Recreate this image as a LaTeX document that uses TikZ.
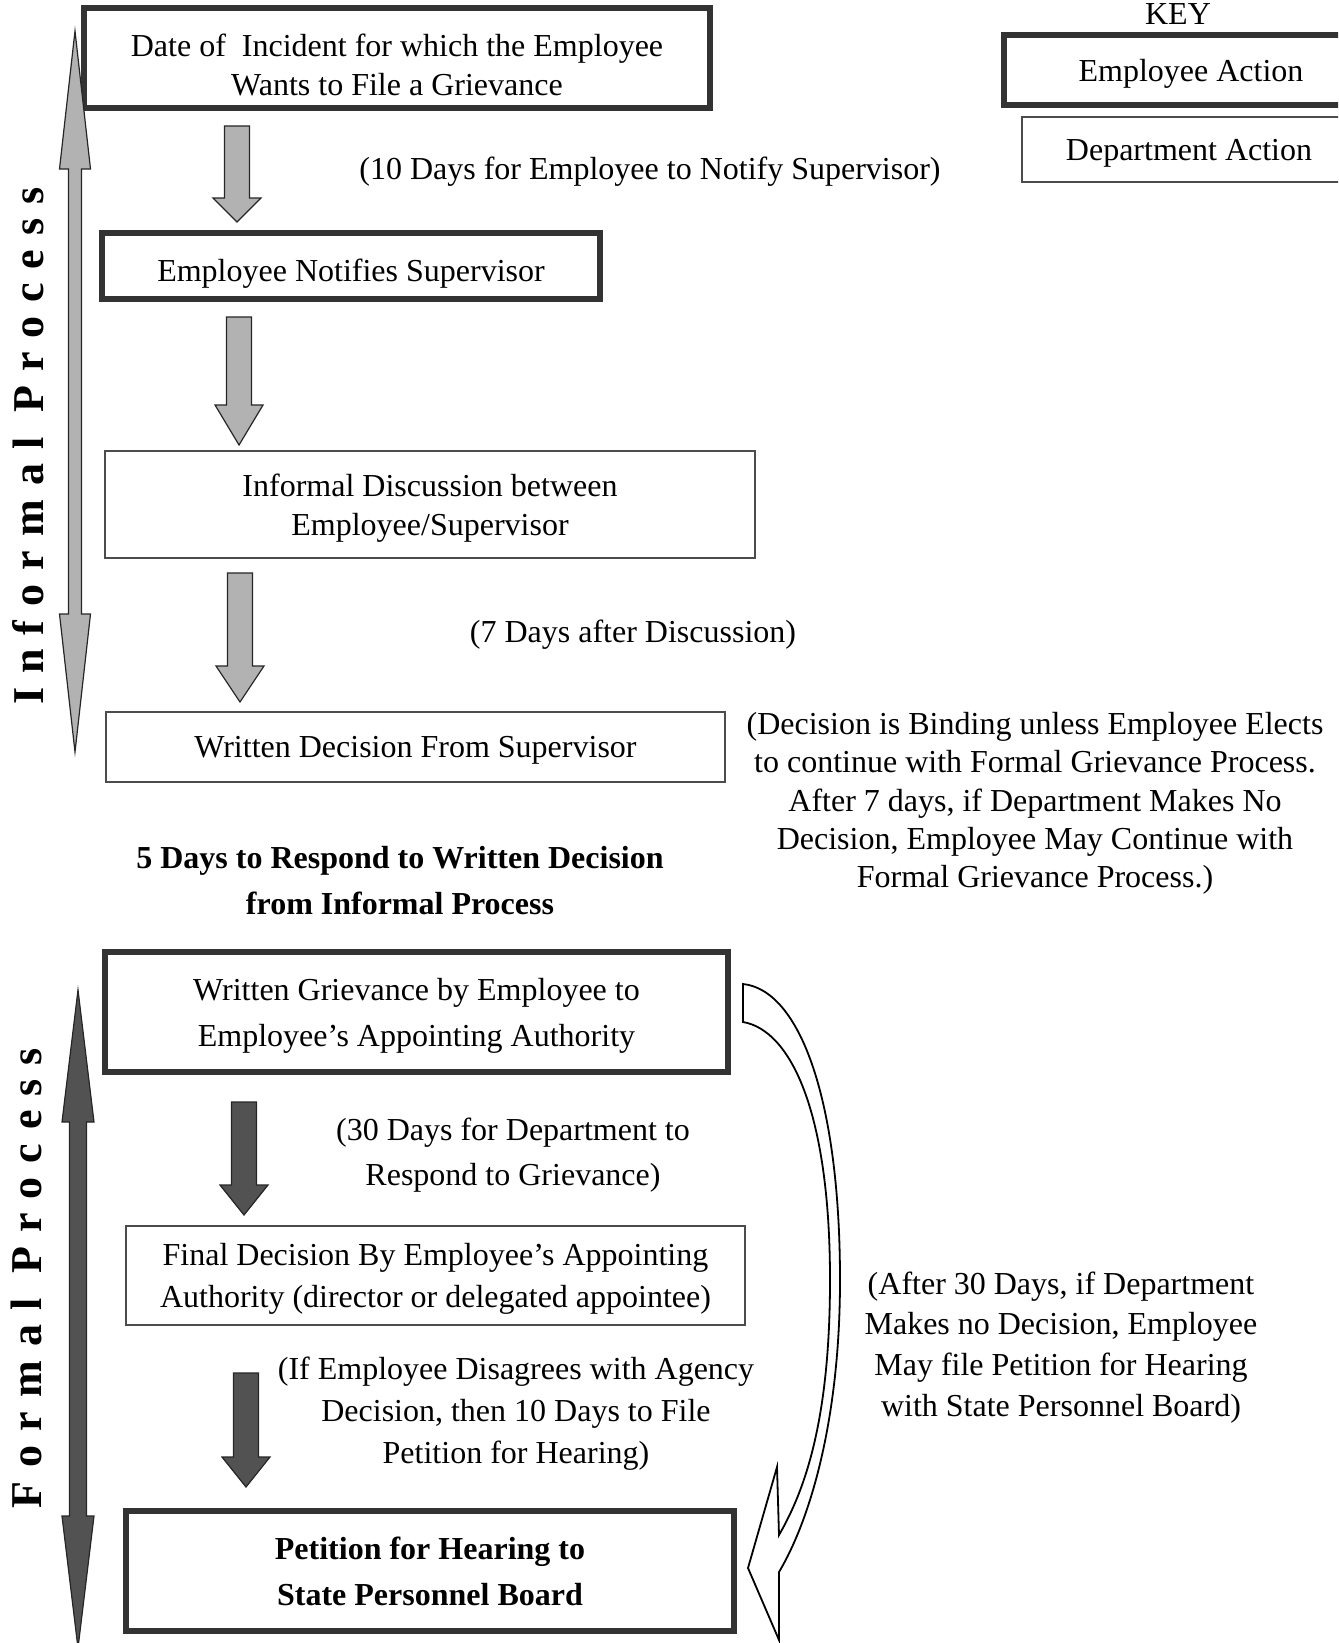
\documentclass[tikz,border=0pt]{standalone}
\usepackage{fontspec}
\setmainfont{Liberation Serif}
\newfontfamily\spacedfont[LetterSpace=32]{Liberation Serif}
\usetikzlibrary{calc}

% block arrow pointing down: top, tip, head length, fill
\newcommand{\blockdown}[4]{%
    \draw[arrowline,fill=#4]
        ($(#1)+(-12.5,0)$) -- ($(#2)+(-12.5,-#3)$) -- ($(#2)+(-24,-#3)$)
        -- (#2) -- ($(#2)+(24,-#3)$) -- ($(#2)+(12.5,-#3)$)
        -- ($(#1)+(12.5,0)$) -- cycle;}

% long double arrow: top tip, bottom tip, head length, shaft, head, fill
\newcommand{\dblarrow}[6]{%
    \draw[arrowline,fill=#6]
        (#1) -- ($(#1)+(#5,#3)$) -- ($(#1)+(#4,#3)$)
        -- ($(#2)+(#4,-#3)$) -- ($(#2)+(#5,-#3)$) -- (#2)
        -- ($(#2)+(-#5,-#3)$) -- ($(#2)+(-#4,-#3)$)
        -- ($(#1)+(-#4,#3)$) -- ($(#1)+(-#5,#3)$) -- cycle;}

% extra room above the first line of a box
\newcommand{\topgap}[1][15pt]{\rule{0pt}{#1}}

\begin{document}
\begin{tikzpicture}[x=0.5pt,y=-0.5pt,
    every node/.style={inner sep=0pt,text depth=0pt},
    font=\fontsize{16}{19.5}\selectfont,
    empbox/.style={draw=black!80,line width=2.6pt,align=center},
    deptbox/.style={draw=black!70,line width=0.6pt,align=center},
    note/.style={align=center},
    lsep/.style={font=\fontsize{16}{#1}\selectfont},
    arrowline/.style={draw=black!85,line width=0.6pt}]

\useasboundingbox (0,0) rectangle (1338,1643);
\clip (0,0) rectangle (1338,1643);

%
% Key in the upper right corner.
\node[anchor=base] (key) at (1178,25) {KEY};
\node[empbox,minimum width=187pt,minimum height=35pt]
    (empkey) at (1191,70) {Employee Action};
\node[deptbox,minimum width=167pt,minimum height=32.5pt]
    (deptkey) at (1189,149.5) {Department Action};

%
% Informal process boxes.
\node[empbox,lsep=19.5pt,minimum width=313pt,minimum height=50pt]
    (incident) at (397,58)
    {\topgap[18pt]Date of \ Incident for which the Employee\\Wants to File a Grievance};
\node[empbox,minimum width=249pt,minimum height=33pt]
    (notify) at (351,266) {\topgap Employee Notifies Supervisor};
\node[deptbox,lsep=19.5pt,minimum width=325pt,minimum height=53.5pt]
    (discuss) at (430,504.5)
    {Informal Discussion between\\Employee/Supervisor};
\node[deptbox,minimum width=309.5pt,minimum height=35pt]
    (wdecision) at (415.5,747) {Written Decision From Supervisor};

%
% Formal process boxes.
\node[empbox,lsep=23pt,minimum width=311.5pt,minimum height=60pt]
    (grievance) at (416.5,1012)
    {Written Grievance by Employee to\\Employee's Appointing Authority};
\node[deptbox,lsep=21pt,minimum width=309.5pt,minimum height=49.5pt]
    (final) at (435.5,1275.5)
    {Final Decision By Employee's Appointing\\Authority (director or delegated appointee)};
\node[empbox,font=\fontsize{16}{23}\selectfont\bfseries,
    minimum width=304pt,minimum height=60pt]
    (petition) at (430,1571)
    {Petition for Hearing to\\State Personnel Board};

%
% Time limits next to the arrows.
\node[note] (notify10) at (650,168) {(10 Days for Employee to Notify Supervisor)};
\node[note] (after7) at (633,631) {(7 Days after Discussion)};
\node[note,lsep=19.15pt] (binding) at (1035,800)
    {(Decision is Binding unless Employee Elects\\
     to continue with Formal Grievance Process.\\
     After 7 days, if Department Makes No\\
     Decision, Employee May Continue with\\
     Formal Grievance Process.)};
\node[note,font=\fontsize{16}{23}\selectfont\bfseries] (respond) at (400,880)
    {5 Days to Respond to Written Decision\\from Informal Process};
\node[note,lsep=22.5pt] (dept30) at (513,1152)
    {(30 Days for Department to\\Respond to Grievance)};
\node[note,lsep=21pt] (disagree) at (516,1410)
    {(If Employee Disagrees with Agency\\
     Decision, then 10 Days to File\\
     Petition for Hearing)};
\node[note,lsep=20.3pt] (after30) at (1061,1344)
    {(After 30 Days, if Department\\
     Makes no Decision, Employee\\
     May file Petition for Hearing\\
     with State Personnel Board)};

%
% Ends of the block arrows between the boxes.
\coordinate (d1a) at (237,126);  \coordinate (d1b) at (237,222);
\coordinate (d2a) at (239,317);  \coordinate (d2b) at (239,445);
\coordinate (d3a) at (240,573);  \coordinate (d3b) at (240,702);
\coordinate (d4a) at (244,1102); \coordinate (d4b) at (244,1215);
\coordinate (d5a) at (246,1373); \coordinate (d5b) at (246,1487);

% Loop for each block arrow.
\foreach \s/\e/\h/\c in {d1a/d1b/24/black!30,d2a/d2b/40/black!30,
    d3a/d3b/36/black!30,d4a/d4b/30/black!68,d5a/d5b/30/black!68} {
    \blockdown{\s}{\e}{\h}{\c}
}

%
% Long double arrows on the left with their labels.
\coordinate (inftop) at (75,31);   \coordinate (infbot) at (75,752);
\coordinate (fortop) at (78,990);  \coordinate (forbot) at (78,1648);
\dblarrow{inftop}{infbot}{138}{6.5}{15.5}{black!30}
\dblarrow{fortop}{forbot}{132}{8.5}{16}{black!68}

\node[rotate=90,font=\fontsize{22}{22}\spacedfont\bfseries]
    (informal) at (28,446) {Informal Process};
\node[rotate=90,font=\fontsize{22}{22}\spacedfont\bfseries]
    (formal) at (26,1278) {Formal Process};

%
% Hollow curved arrow from the grievance to the petition.
\draw[line width=0.9pt,fill=white]
    % tail beside the grievance box
    (743,984)
    % outer edge
    .. controls (800,990) and (840,1100) .. (840,1280)
    .. controls (840,1420) and (810,1520) .. (779,1572)
    % arrow head
    -- (779,1640) -- (748,1568) -- (777,1467) -- (779,1535)
    % inner edge back to the tail
    .. controls (805,1490) and (830,1420) .. (830,1280)
    .. controls (830,1110) and (790,1030) .. (743,1022)
    -- cycle;

\end{tikzpicture}
\end{document}
